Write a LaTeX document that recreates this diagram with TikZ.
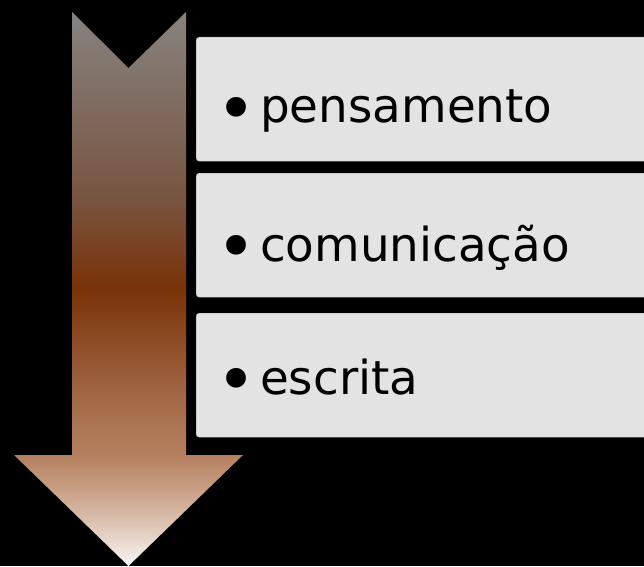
\documentclass[tikz,border=0pt]{standalone}
\usepackage{fontspec}
\usepackage{graphicx}
\setmainfont{DejaVu Sans}
\definecolor{boxgray}{HTML}{E3E3E3}
\definecolor{arrowtop}{HTML}{87837F}
\definecolor{arrowup}{HTML}{785440}
\definecolor{arrowdark}{HTML}{7A3208}
\definecolor{arrowmid}{HTML}{A36A48}
\definecolor{arrowlow}{HTML}{B47F5E}
\definecolor{arrowpale}{HTML}{D4B4A0}
\definecolor{arrowtip}{HTML}{F8F6F4}
\pgfdeclareverticalshading{arrowshade}{100bp}{color(0bp)=(arrowtip); color(25bp)=(arrowtip); color(30bp)=(arrowpale); color(35bp)=(arrowlow); color(40bp)=(arrowmid); color(50bp)=(arrowdark); color(58bp)=(arrowup); color(75bp)=(arrowtop); color(100bp)=(arrowtop)}
\tikzstyle{itembox}=[rectangle,draw=black!35,fill=boxgray,rounded corners=3pt,minimum width=470pt,minimum height=124pt,anchor=north west,inner sep=0pt]
\tikzstyle{itemtext}=[anchor=base west,inner sep=0pt,font=\fontsize{46.8}{56}\selectfont]
\newcommand{\itembul}{\makebox[34pt][l]{\hspace{-10pt}\raisebox{-9pt}{\scalebox{1.45}{•}}}}
\begin{document}
\begin{tikzpicture}[x=1pt,y=1pt]
        \fill[black] (0,0) rectangle (644,566);
        \useasboundingbox (0,0) rectangle (644,566);
        \clip (0,0) rectangle (644,566);

        % arrow
        \shade[shading=arrowshade] (72,554) -- (128.5,498) -- (186,554) -- (186,111) -- (243,111)
         -- (128.5,0) -- (14,111) -- (72,111) -- cycle;

        % boxes
        \node[itembox] (pens) at (196,529) {};
        \node[itembox] (comm) at (196,393) {};
        \node[itembox] (escr) at (196,253) {};

        \node[itemtext] (penslabel) at (226,443) {\itembul pensamento};
        \node[itemtext] (commlabel) at (226,304.5) {\itembul comunicação};
        \node[itemtext] (escrlabel) at (226,172) {\itembul escrita};
\end{tikzpicture}
\end{document}
